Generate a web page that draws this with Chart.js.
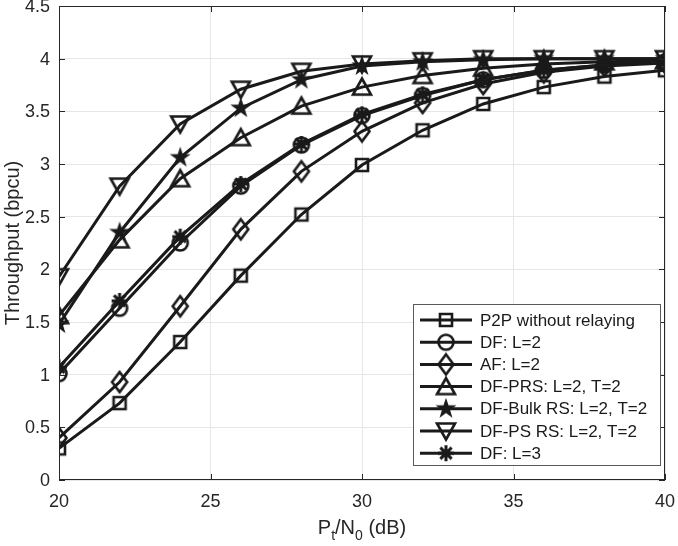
<!DOCTYPE html>
<html>
<head>
<meta charset="utf-8">
<script src="https://cdn.jsdelivr.net/npm/chart.js@4/dist/chart.umd.min.js"></script>
<style>
  html, body { margin: 0; padding: 0; background: #fff; }
  canvas { display: block; }
</style>
</head>
<body>
<canvas id="c" width="678" height="546"></canvas>
<script>
// x values (Pt/N0 in dB)
const snr = [20, 22, 24, 26, 28, 30, 32, 34, 36, 38, 40];

// throughput (bpcu)
const p2p   = [0.30, 0.73, 1.31, 1.94, 2.52, 2.99, 3.32, 3.57, 3.73, 3.83, 3.89];
const dfL2  = [1.01, 1.63, 2.25, 2.79, 3.18, 3.46, 3.65, 3.80, 3.89, 3.94, 3.97];
const af    = [0.40, 0.93, 1.65, 2.38, 2.93, 3.31, 3.58, 3.76, 3.87, 3.93, 3.96];
const prs   = [1.56, 2.28, 2.86, 3.25, 3.55, 3.73, 3.84, 3.91, 3.95, 3.97, 3.98];
const bulk  = [1.48, 2.35, 3.06, 3.53, 3.80, 3.93, 3.97, 3.99, 4.00, 4.00, 4.00];
const psrs  = [1.93, 2.79, 3.38, 3.71, 3.88, 3.95, 3.98, 4.00, 4.00, 4.00, 4.00];
const dfL3  = [1.07, 1.70, 2.31, 2.81, 3.19, 3.47, 3.66, 3.80, 3.89, 3.94, 3.97];

const labels  = ['P2P without relaying', 'DF: L=2', 'AF: L=2', 'DF-PRS: L=2, T=2',
                 'DF-Bulk RS: L=2, T=2', 'DF-PS RS: L=2, T=2', 'DF: L=3'];
const series  = [p2p, dfL2, af, prs, bulk, psrs, dfL3];
const markers = ['square', 'circle', 'diamond', 'triangle', 'pentagram', 'triangleDown', 'asterisk'];

const INK = '#1a1a1a';
const AXIS = '#262626';
const FONT = '"Liberation Sans", Arial, Helvetica, sans-serif';

// matlab-ish markers as small canvases (unfilled except star/asterisk)
function makeMarker(kind) {
  const c = document.createElement('canvas');
  c.width = 28; c.height = 28;
  const g = c.getContext('2d');
  g.translate(14, 14);
  g.strokeStyle = INK;
  g.fillStyle = INK;
  g.lineWidth = 2.6;
  g.lineJoin = 'miter';
  g.beginPath();
  if (kind == 'square') {
    g.rect(-6, -6, 12, 12);
    g.stroke();
  } else if (kind == 'circle') {
    g.arc(0, 0, 7.5, 0, Math.PI * 2);
    g.stroke();
  } else if (kind == 'diamond') {
    g.moveTo(0, -10); g.lineTo(7.5, 0); g.lineTo(0, 10); g.lineTo(-7.5, 0); g.closePath();
    g.stroke();
  } else if (kind == 'triangle') {
    g.moveTo(0, -8.5); g.lineTo(9, 7.5); g.lineTo(-9, 7.5); g.closePath();
    g.stroke();
  } else if (kind == 'triangleDown') {
    g.moveTo(0, 8.5); g.lineTo(9, -7.5); g.lineTo(-9, -7.5); g.closePath();
    g.stroke();
  } else if (kind == 'pentagram') {
    for (let i = 0; i < 10; i++) {
      const r = i % 2 ? 4.3 : 11;
      const a = -Math.PI / 2 + i * Math.PI / 5;
      g.lineTo(r * Math.cos(a), r * Math.sin(a));
    }
    g.closePath();
    g.fill();
  } else if (kind == 'asterisk') {
    g.lineWidth = 3;
    for (let i = 0; i < 4; i++) {
      const a = i * Math.PI / 4;
      g.moveTo(-8 * Math.cos(a), -8 * Math.sin(a));
      g.lineTo(8 * Math.cos(a), 8 * Math.sin(a));
    }
    g.stroke();
    g.beginPath();
    g.arc(0, 0, 4, 0, Math.PI * 2);
    g.fill();
  }
  return c;
}
const markerImgs = markers.map(makeMarker);

const datasets = series.map((vals, i) => ({
  label: labels[i],
  data: vals.map((v, j) => ({ x: snr[j], y: v })),
  borderColor: INK,
  borderWidth: 3,
  pointStyle: markerImgs[i],
  pointRadius: 10,
  tension: 0,
  fill: false
}));

// box, inward ticks, tick labels, axis titles and legend
const decorations = {
  id: 'decorations',
  afterDatasetsDraw(chart) {
    const ctx = chart.ctx;
    const a = chart.chartArea;
    const xs = chart.scales.x, ys = chart.scales.y;
    ctx.save();
    ctx.strokeStyle = AXIS;
    ctx.lineWidth = 1;
    ctx.strokeRect(a.left + 0.5, a.top + 0.5, a.right - a.left - 1, a.bottom - a.top - 1);
    ctx.beginPath();
    xs.ticks.forEach(t => {
      const px = Math.round(xs.getPixelForValue(t.value)) + 0.5;
      ctx.moveTo(px, a.bottom); ctx.lineTo(px, a.bottom - 6);
      ctx.moveTo(px, a.top); ctx.lineTo(px, a.top + 6);
    });
    ys.ticks.forEach(t => {
      const py = Math.round(ys.getPixelForValue(t.value)) + 0.5;
      ctx.moveTo(a.left, py); ctx.lineTo(a.left + 6, py);
      ctx.moveTo(a.right, py); ctx.lineTo(a.right - 6, py);
    });
    ctx.stroke();

    // tick labels
    ctx.fillStyle = AXIS;
    ctx.font = '18px ' + FONT;
    ctx.textBaseline = 'middle';
    ctx.textAlign = 'center';
    xs.ticks.forEach(t => ctx.fillText(String(t.value), xs.getPixelForValue(t.value), a.bottom + 22));
    ctx.textAlign = 'right';
    ys.ticks.forEach(t => ctx.fillText(String(t.value), a.left - 9, ys.getPixelForValue(t.value) + 1));

    // x title with subscripts
    ctx.textAlign = 'left';
    ctx.textBaseline = 'alphabetic';
    const big = '20px ' + FONT, small = '14px ' + FONT;
    const parts = [['P', big, 0], ['t', small, 6], ['/N', big, 0], ['0', small, 6], [' (dB)', big, 0]];
    let w = 0;
    parts.forEach(p => { ctx.font = p[1]; w += ctx.measureText(p[0]).width; });
    let x = (a.left + a.right) / 2 - w / 2;
    const base = 534;
    parts.forEach(p => {
      ctx.font = p[1];
      ctx.fillText(p[0], x, base + p[2]);
      x += ctx.measureText(p[0]).width;
    });

    // y title
    ctx.save();
    ctx.translate(13, (a.top + a.bottom) / 2);
    ctx.rotate(-Math.PI / 2);
    ctx.font = big;
    ctx.textAlign = 'center';
    ctx.textBaseline = 'middle';
    ctx.fillText('Throughput (bpcu)', 0, 0);
    ctx.restore();

    // legend
    const lx = 413, ly = 304, lw = 247, lh = 161;
    ctx.fillStyle = '#fff';
    ctx.fillRect(lx, ly, lw, lh);
    ctx.strokeStyle = '#5a5a5a';
    ctx.lineWidth = 1;
    ctx.strokeRect(lx + 0.5, ly + 0.5, lw, lh);
    ctx.font = '17px ' + FONT;
    ctx.textBaseline = 'middle';
    ctx.textAlign = 'left';
    labels.forEach((t, i) => {
      const y = 320 + i * 22.2;
      ctx.strokeStyle = INK;
      ctx.lineWidth = 3;
      ctx.beginPath();
      ctx.moveTo(420, y); ctx.lineTo(472, y);
      ctx.stroke();
      ctx.drawImage(markerImgs[i], 446 - 14, y - 14);
      ctx.fillStyle = INK;
      ctx.fillText(t, 480, y + 1);
    });
    ctx.restore();
  }
};

new Chart(document.getElementById('c'), {
  type: 'line',
  data: { datasets },
  plugins: [decorations],
  options: {
    responsive: false,
    animation: false,
    layout: { autoPadding: false, padding: { top: 6, right: 13, left: 0, bottom: 0 } },
    plugins: { legend: { display: false }, tooltip: { enabled: false } },
    scales: {
      x: {
        type: 'linear', min: 20, max: 40,
        afterFit(s) { s.height = 66; },
        ticks: { display: false, stepSize: 5 },
        grid: { color: '#e6e6e6', drawTicks: false },
        border: { display: false }
      },
      y: {
        min: 0, max: 4.5,
        afterFit(s) { s.width = 59; },
        ticks: { display: false, stepSize: 0.5 },
        grid: { color: '#e6e6e6', drawTicks: false },
        border: { display: false }
      }
    }
  }
});
</script>
</body>
</html>
